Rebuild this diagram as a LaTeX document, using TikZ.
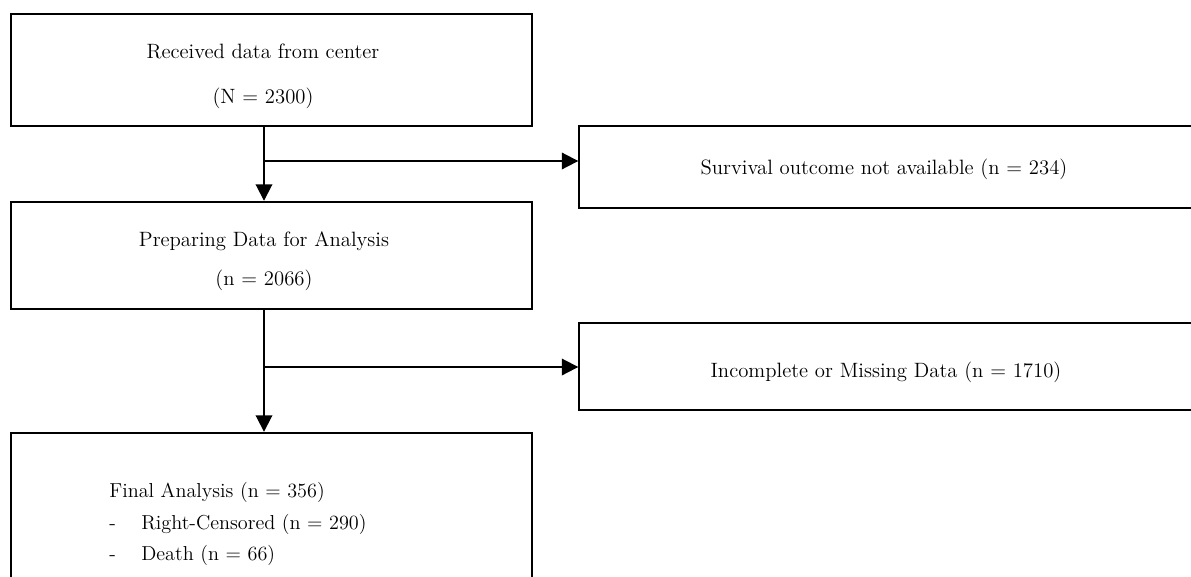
\documentclass[tikz,border=0pt]{standalone}
\usepackage{tikz}
\usetikzlibrary{arrows.meta}

\tikzset{
  mainbox/.style={draw,line width=1.4pt,minimum width=10.42cm,inner sep=0pt},
  sidebox/.style={draw,line width=0.85pt,minimum width=12.32cm,inner sep=0pt},
  boxtext/.style={inner sep=0pt,align=center,font=\fontsize{11.8}{25}\selectfont},
  conn/.style={line width=1.1pt,-{Triangle[length=0.33cm,width=0.33cm]}},
}

\begin{document}
\begin{tikzpicture}[x=0.02cm,y=-0.02cm]
\useasboundingbox (0,0) rectangle (1191,576);
\clip (0,0) rectangle (1191,576);
% left column
\node[mainbox,minimum height=2.24cm] (recv) at (271.5,70) {};
\node[boxtext,font=\fontsize{11.8}{25.5}\selectfont] (recvtxt) at (263,76) {Received data from center\\(N = 2300)};
\node[mainbox,minimum height=2.14cm] (prep) at (271.5,255.5) {};
\node[boxtext,font=\fontsize{11.8}{22.5}\selectfont] (preptxt) at (264,261) {Preparing Data for Analysis\\(n = 2066)};
\node[mainbox,minimum height=3.3cm] (final) at (271.5,515.5) {};
\node[anchor=north west,inner sep=0pt,align=left,font=\fontsize{11.5}{18}\selectfont] (finaltxt) at (109,482)
  {Final Analysis (n = 356)\\
   \makebox[0.64cm][l]{-}Right-Censored (n = 290)\\
   \makebox[0.64cm][l]{-}Death (n = 66)};
% right column
\node[sidebox,minimum height=1.64cm] (surv) at (887,167) {};
\node[boxtext] (survtxt) at (884,169) {Survival outcome not available (n = 234)};
\node[sidebox,minimum height=1.74cm] (miss) at (887,366.5) {};
\node[boxtext] (misstxt) at (886,372) {Incomplete or Missing Data (n = 1710)};
% connectors
\coordinate (s1) at (264,161);
\coordinate (s2) at (264,367);
\draw[conn] (recv.south -| s1) -- (prep.north -| s1);
\draw[conn] (s1) -- (s1 -| surv.west);
\draw[conn] (prep.south -| s2) -- (final.north -| s2);
\draw[conn] (s2) -- (s2 -| miss.west);
\end{tikzpicture}
\end{document}
